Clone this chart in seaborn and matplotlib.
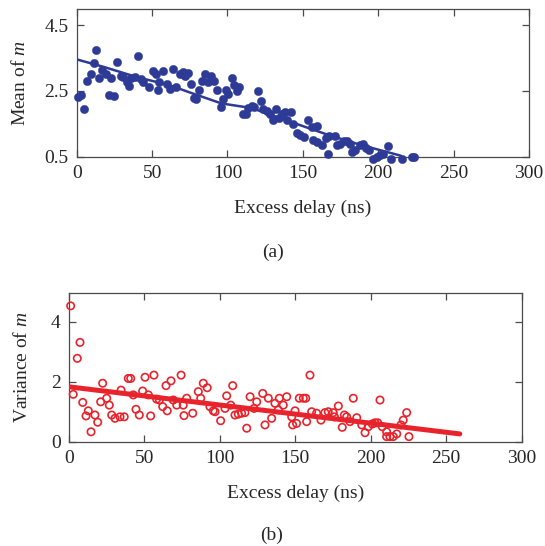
import numpy as np
import pandas as pd
import matplotlib
matplotlib.use("Agg")
import matplotlib.pyplot as plt
import seaborn as sns

# ---- data ----
mean_x = [1.1, 2.9, 5, 7, 9.3, 11.5, 12.8, 14.8, 17, 19.2, 21.2, 22.5, 24.5, 26.5, 29.4, 30.9,
          33.2, 34.5, 36, 38.7, 40.9, 42.4, 44.2, 48.1, 50.8, 52.6, 54.1, 54.8, 57.4, 60.1, 61.9,
          64.1, 65.8, 68.5, 70.5, 71.8, 74, 75.8, 78, 79.1, 81.3, 82.9, 85.1, 87.3, 88.9, 91,
          92.8, 95.5, 96.8, 98.8, 100.5, 102.8, 104.3, 106.1, 107.8, 110.5, 112.3, 113.8, 116,
          117.6, 120, 122, 123.7, 126, 128.2, 130, 132.2, 134.4, 135.9, 138.1, 139.7, 141.9,
          143.6, 145.9, 148.1, 150.7, 153.6, 155.8, 156.9, 159.2, 159.2, 162.5, 165.3, 166.8,
          167.5, 171.3, 172.4, 174.6, 177.3, 179.4, 181.2, 182.4, 184.6, 187.9, 189.7, 191.8,
          194, 196.7, 199, 201.1, 203.3, 206.2, 208.2, 215.5, 222.1, 223.9]
mean_y = [2.32, 2.37, 1.94, 2.8, 3.0, 3.35, 3.76, 2.89, 3.13, 3.02, 2.39, 2.88, 2.35, 3.38, 2.95, 2.92,
          2.77, 2.64, 2.89, 2.92, 3.56, 2.85, 2.77, 2.62, 3.1, 3.03, 2.52, 2.77, 3.1, 2.72, 2.57,
          3.18, 2.62, 3.0, 3.08, 2.95, 3.06, 2.72, 2.3, 2.27, 2.52, 2.8, 3.03, 2.77, 2.95, 2.8,
          2.52, 2.02, 2.24, 2.52, 2.42, 2.89, 2.67, 2.5, 2.62, 1.81, 1.79, 1.98, 2.05,
          2.0, 2.49, 2.2, 1.94, 1.89, 1.81, 1.63, 1.95, 1.69, 1.81, 1.86, 1.61, 1.86,
          1.49, 1.21, 1.16, 1.11, 1.63, 1.39, 1.01, 1.44, 0.95, 0.85, 1.08, 0.57,
          1.13, 1.13, 0.85, 0.9, 0.98, 0.98, 0.9, 0.65, 0.7, 0.85, 0.9, 0.75,
          0.7, 0.42, 0.5, 0.55, 0.58, 0.82, 0.42, 0.42, 0.5, 0.5]
mean_fit_x = [0, 18, 40, 62, 74, 96, 116, 145, 167, 189, 215]
mean_fit_y = [3.46, 3.23, 2.92, 2.67, 2.47, 2.12, 1.98, 1.51, 1.16, 0.85, 0.53]

var_x = [1.1, 2.8, 5.5, 7.3, 9.1, 11.3, 12.8, 14.6, 17.2, 19, 21, 22.3, 25, 26.7, 28.3, 30.5, 33.8,
         34.5, 36.6, 39.3, 40.9, 42.6, 44.4, 46.6, 48.8, 50.4, 52.6, 54.1, 56.3, 58.1, 59.9, 62.1,
         64.3, 65.1, 67.6, 69.1, 71.4, 74.3, 75.7, 76.2, 78, 82, 85.7, 87.3, 89, 91.6, 93.4, 95.6,
         96.8, 100.5, 103.4, 104.5, 107.2, 108.5, 110, 112.2, 114.4, 116.6, 117.8, 120, 122.6,
         124.4, 128.4, 129.9, 132.1, 134.3, 136.5, 138.7, 139.4, 142, 144.3, 147.6, 148.2, 149.8,
         150.8, 152.6, 155.3, 156.9, 157.5, 159.7, 160.8, 164.1, 167, 169.6, 171.8, 175.1, 175.9,
         178.5, 181.1, 182.5, 184, 186.2, 188.4, 190.7, 194, 196.2, 198.3, 201, 202.8, 204.6,
         206.1, 207.6, 210.5, 210.5, 212.7, 214.9, 217.2, 220, 221.5, 223.8, 225.3]
var_y = [4.53, 1.58, 2.78, 3.31, 1.31, 0.86, 1.03, 0.33, 0.89, 0.65, 1.33, 1.95, 1.45, 1.22, 0.89, 0.78, 0.83,
         1.72, 0.83, 2.11, 2.11, 1.56, 1.08, 0.89, 1.69, 2.15, 1.56, 0.86, 2.22, 1.42, 1.39, 1.17,
         1.87, 1.03, 2.03, 1.39, 1.22, 2.22, 1.22, 0.87, 1.45, 0.95, 1.67, 1.45, 1.95, 1.8, 1.17, 1.03,
         1.0, 0.7, 1.11, 1.53, 1.22, 1.87, 0.89, 0.92, 0.95, 0.97, 0.45, 1.5, 1.11,
         1.33, 1.61, 0.56, 1.45, 0.78, 1.28, 1.06, 1.45, 1.22, 1.5, 0.83, 0.56, 1.03,
         0.61, 1.45, 1.45, 1.45, 0.67, 2.22, 1.0, 0.95, 0.72, 0.97, 1.0, 0.97, 0.83,
         1.19, 0.48, 0.89, 0.83, 0.67, 1.45, 0.8, 0.56, 0.3, 0.5, 0.59, 0.63, 0.63,
         1.39, 0.5, 0.33, 0.17, 0.17, 0.17, 0.26, 0.56, 0.72, 0.97, 0.17]
var_fit_x = [0, 259]
var_fit_y = [1.83, 0.26]

x_ticks = [0, 50, 100, 150, 200, 250, 300]
mean_ticks = [0.5, 2.5, 4.5]
var_ticks = [0, 2, 4]

# ---- style ----
sns.set_style("ticks")
plt.rcParams["font.family"] = ["Liberation Serif", "DejaVu Serif"]
plt.rcParams["mathtext.fontset"] = "custom"
plt.rcParams["mathtext.it"] = "Liberation Serif:italic"
plt.rcParams["mathtext.rm"] = "Liberation Serif"

BLUE = "#2D3A96"
RED = "#E8232C"
SPINE = "#4a4a4a"
TXT = "#262626"
FS = 14

fig = plt.figure(figsize=(5.45, 5.46), dpi=100)
ax1 = fig.add_axes([0.1407, 0.713, 0.830, 0.271])
ax2 = fig.add_axes([0.1266, 0.191, 0.8306, 0.273])

df_m = pd.DataFrame({"x": mean_x, "y": mean_y})
df_mf = pd.DataFrame({"x": mean_fit_x, "y": mean_fit_y})
df_v = pd.DataFrame({"x": var_x, "y": var_y})
df_vf = pd.DataFrame({"x": var_fit_x, "y": var_fit_y})

sns.scatterplot(data=df_m, x="x", y="y", ax=ax1, color=BLUE, s=36, edgecolor=BLUE,
                linewidth=0.3, zorder=3, clip_on=False)
sns.lineplot(data=df_mf, x="x", y="y", ax=ax1, color=BLUE, linewidth=1.8, zorder=4)

sns.scatterplot(data=df_v, x="x", y="y", ax=ax2, facecolor="none", edgecolor=RED, s=28,
                linewidth=1.2, zorder=3, clip_on=False)
sns.lineplot(data=df_vf, x="x", y="y", ax=ax2, color=RED, linewidth=3.6, zorder=4)

for ax, yt, ylim, ylab, ylx, xly in [
        (ax1, mean_ticks, (0.5, 5.0), r"Mean of $m$", -0.125, -0.347),
        (ax2, var_ticks, (0, 4.97), r"Variance of $m$", -0.104, -0.344)]:
    ax.set_xlim(0, 300)
    ax.set_ylim(*ylim)
    ax.set_xticks(x_ticks)
    ax.set_yticks(yt)
    ax.set_yticklabels([("%g" % v) for v in yt])
    ax.tick_params(direction="in", length=5, width=0.9, top=True, right=True,
                   labelsize=FS, colors=SPINE, labelcolor=TXT, pad=6)
    for s in ax.spines.values():
        s.set_visible(True)
        s.set_color(SPINE)
        s.set_linewidth(0.9)
    ax.set_xlabel("Excess delay (ns)", fontsize=FS, color=TXT)
    ax.set_ylabel(ylab, fontsize=FS, color=TXT)
    ax.yaxis.set_label_coords(ylx, 0.5)
    ax.xaxis.set_label_coords(0.5, xly)
    ax.xaxis.label.set_va("center")
    ax.yaxis.label.set_va("center")

fig.text(273 / 545, 1 - 252 / 546, "(a)", ha="center", va="center", fontsize=FS, color=TXT)
fig.text(272 / 545, 1 - 535 / 546, "(b)", ha="center", va="center", fontsize=FS, color=TXT)

fig.savefig("out.png", dpi=100)
